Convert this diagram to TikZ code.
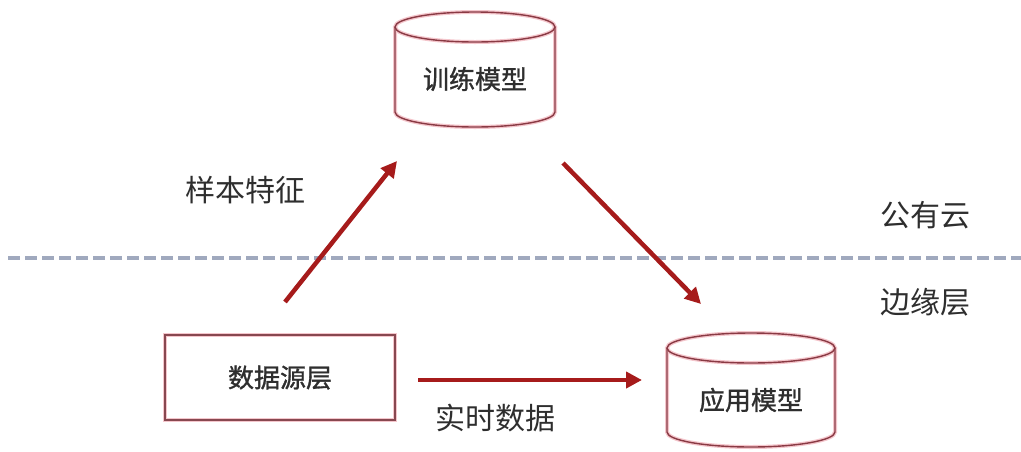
\documentclass[tikz,border=0pt]{standalone}
\usepackage{fontspec}
\newfontfamily\cjk{Noto Sans CJK SC}
\newfontfamily\cjkb[FakeBold=1.2]{Noto Sans CJK SC}
\usetikzlibrary{arrows.meta}
\definecolor{arrowred}{HTML}{A61B1B}
\definecolor{edge}{HTML}{8A3A44}
\definecolor{glow}{HTML}{F4C6CC}
\definecolor{dashgray}{HTML}{A0A9BE}
\definecolor{txt}{HTML}{2E2E2E}
\tikzset{
  flow/.style={draw=arrowred, line width=4.5pt, -{Triangle[length=16pt,width=16pt]}},
  inner/.style={font=\cjkb\fontsize{26}{28}\selectfont, text=txt},
  label/.style={font=\cjk\fontsize{30}{32}\selectfont, text=txt},
  outline/.style={draw=edge, line width=1.4pt},
  halo/.style={draw=glow, line width=4pt},
}
\begin{document}
\begin{tikzpicture}[x=1pt,y=1pt]
\useasboundingbox (0,0) rectangle (1021,-451);
% dashed divider
\draw[dashgray, line width=3.2pt, dash pattern=on 12pt off 5pt] (8,-258) -- (1021,-258);
% top cylinder (training)
\foreach \s in {halo,outline}{
  \draw[\s] (395,-27) -- (395,-112) arc[start angle=180,end angle=360,x radius=80pt,y radius=15pt] -- (555,-27);
  \draw[\s] (475,-27) ellipse [x radius=80pt, y radius=15pt];
}
\node[inner] (train) at (475,-79) {训练模型};
% bottom cylinder (application)
\foreach \s in {halo,outline}{
  \draw[\s] (667,-348) -- (667,-432) arc[start angle=180,end angle=360,x radius=84pt,y radius=15pt] -- (835,-348);
  \draw[\s] (751,-348) ellipse [x radius=84pt, y radius=15pt];
}
\node[inner] (app) at (751,-400) {应用模型};
% data source box
\draw[halo] (165,-335) rectangle (395,-420);
\node[outline, minimum width=230pt, minimum height=85pt, inner, draw=edge!80!gray] (src) at (280,-377.5) {数据源层};
% arrow endpoints
\coordinate (a1) at (285,-302);
\coordinate (a2) at (397,-161);
\coordinate (b1) at (563,-163);
\coordinate (b2) at (701,-304);
\coordinate (c1) at (418,-380);
\coordinate (c2) at (642,-380);
\draw[flow] (a1) -- (a2);
\draw[flow] (b1) -- (b2);
\draw[flow] (c1) -- (c2);
% labels
\node[label] (l1) at (245,-190) {样本特征};
\node[label] (l2) at (925,-215) {公有云};
\node[label] (l3) at (925,-302) {边缘层};
\node[label] (l4) at (495,-418) {实时数据};
\end{tikzpicture}
\end{document}
